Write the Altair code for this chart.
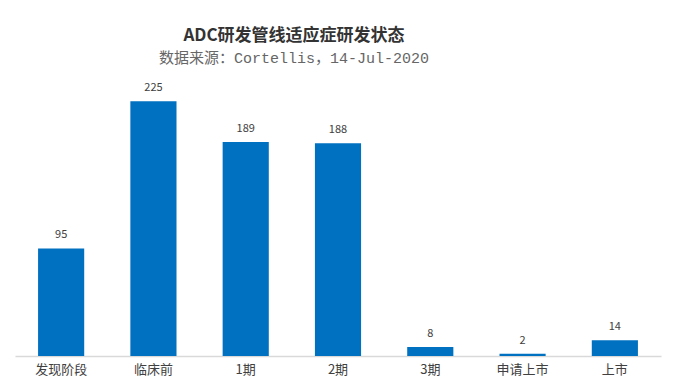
import altair as alt
import pandas as pd

categories = ["发现阶段", "临床前", "1期", "2期", "3期", "申请上市", "上市"]
values = [95, 225, 189, 188, 8, 2, 14]

df = pd.DataFrame({"stage": categories, "count": values})

base = alt.Chart(df).encode(
    x=alt.X("stage:N", sort=categories, title=None,
            scale=alt.Scale(paddingInner=0.5, paddingOuter=0.25),
            axis=alt.Axis(labelAngle=0, labelFont="Noto Sans CJK SC", labelFontSize=13,
                          labelColor="#404040", domainColor="#d9d9d9", domainWidth=1.5,
                          ticks=False, labelPadding=7)),
    y=alt.Y("count:Q", scale=alt.Scale(domain=[0, 250]), axis=None),
)

bars = base.mark_bar(color="#0070C0")
labels = base.mark_text(dy=-13, font="Noto Sans CJK SC", fontSize=11, color="#404040").encode(
    text="count:Q")

chart = (bars + labels).properties(
    width=646, height=283,
    padding={"left": 7, "top": 65, "right": 7, "bottom": 28},
    autosize=alt.AutoSizeParams(type="none"),
    title=alt.TitleParams(
        "ADC研发管线适应症研发状态",
        subtitle="数据来源：Cortellis，14-Jul-2020",
        font="Noto Sans CJK SC", fontSize=17, fontWeight="bold", color="#333333",
        subtitleFont="Liberation Mono, Noto Sans CJK SC", subtitleFontSize=15,
        subtitleColor="#666666", subtitlePadding=6, anchor="middle", dx=-44, offset=6,
    ),
).configure_view(stroke=None)

chart.save("out.html", embed_options={"renderer": "svg", "actions": False})
